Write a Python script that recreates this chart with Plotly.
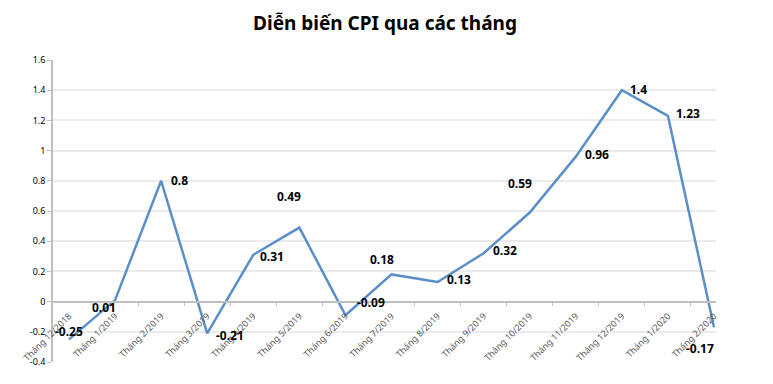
import plotly.graph_objects as go

months = ["Tháng 12/2018", "Tháng 1/2019", "Tháng 2/2019", "Tháng 3/2019", "Tháng 4/2019",
          "Tháng 5/2019", "Tháng 6/2019", "Tháng 7/2019", "Tháng 8/2019", "Tháng 9/2019",
          "Tháng 10/2019", "Tháng 11/2019", "Tháng 12/2019", "Tháng 1/2020", "Tháng 2/2020"]
cpi = [-0.25, 0.01, 0.8, -0.21, 0.31, 0.49, -0.09, 0.18, 0.13, 0.32, 0.59, 0.96, 1.4, 1.23, -0.17]
y_ticks = [-0.4, -0.2, 0, 0.2, 0.4, 0.6, 0.8, 1, 1.2, 1.4, 1.6]

# label pixel offsets (style only)
label_dx = [0, -11, 18, 23, 19, -10, 26, -10, 21, 21, -10, 21, 17, 20, -14]
label_dy = [8, -7, 0, -2, -2, 31, 13, 15, 2, 3, 29, 2, 1, 2, -21]

fig = go.Figure()
fig.add_trace(go.Scatter(
    x=months, y=cpi, mode="lines",
    line=dict(color="#5B8FCA", width=2.5),
    hoverinfo="x+y",
))

for m, v, dx, dy in zip(months, cpi, label_dx, label_dy):
    fig.add_annotation(
        x=m, y=v, text=f"<b>{v:g}</b>", showarrow=False,
        xshift=dx, yshift=dy,
        font=dict(family="Noto Sans", size=12, color="#000000"),
    )

W, H = 765, 376
fig.update_layout(
    width=W, height=H,
    margin=dict(l=45, r=57, t=52, b=22, autoexpand=False),
    paper_bgcolor="white", plot_bgcolor="white",
    showlegend=False,
    title=dict(text="<b>Diễn biến CPI qua các tháng</b>", x=(385 - 8) / W, xanchor="center",
               y=1 - 15 / H, yanchor="middle",
               font=dict(family="Noto Sans", size=19, color="#000000")),
    xaxis=dict(
        type="category", anchor="free", position=0.2,
        tickangle=-45, tickson="boundaries",
        ticks="outside", ticklen=4, tickcolor="#BFBFBF",
        showline=True, linecolor="#BFBFBF", linewidth=1.5,
        showgrid=False, zeroline=False,
        ticklabelstandoff=5,
        tickfont=dict(family="Noto Sans", size=9, color="#595959"),
        automargin=False,
    ),
    yaxis=dict(
        range=[-0.4, 1.6], tickvals=y_ticks, ticktext=[f"{t:g}" for t in y_ticks],
        showgrid=True, gridcolor="#EBEBEB", gridwidth=1.5,
        showline=True, linecolor="#BFBFBF", linewidth=1.5,
        ticks="outside", ticklen=4, tickcolor="#BFBFBF",
        zeroline=False,
        tickfont=dict(family="Noto Sans", size=9, color="#000000"),
        automargin=False,
    ),
)

fig.write_html("out.html")
